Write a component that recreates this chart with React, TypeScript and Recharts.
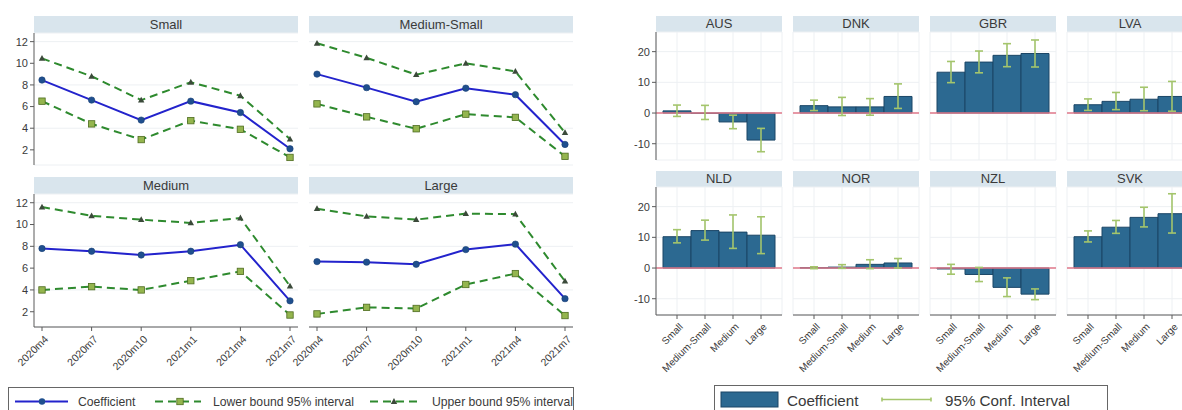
import React from 'react';
import {
  LineChart, Line, BarChart, Bar, ErrorBar, XAxis, YAxis, CartesianGrid, ReferenceLine,
} from 'recharts';

const FONT = '"Liberation Sans", Arial, sans-serif';

// ---- time profile by firm size ----
const PERIODS = ['2020m4', '2020m7', '2020m10', '2021m1', '2021m4', '2021m7'];

const smallCoef = [8.45, 6.6, 4.75, 6.5, 5.45, 2.1];
const smallLower = [6.5, 4.4, 2.95, 4.7, 3.9, 1.3];
const smallUpper = [10.45, 8.8, 6.6, 8.25, 7.0, 3.0];

const medSmallCoef = [9.0, 7.75, 6.45, 7.7, 7.1, 2.5];
const medSmallLower = [6.25, 5.05, 3.95, 5.3, 5.0, 1.4];
const medSmallUpper = [11.85, 10.5, 8.95, 10.0, 9.25, 3.6];

const mediumCoef = [7.8, 7.55, 7.2, 7.55, 8.15, 3.0];
const mediumLower = [4.0, 4.3, 4.0, 4.85, 5.7, 1.7];
const mediumUpper = [11.6, 10.8, 10.45, 10.15, 10.6, 4.35];

const largeCoef = [6.6, 6.55, 6.35, 7.7, 8.2, 3.2];
const largeLower = [1.8, 2.4, 2.3, 4.5, 5.5, 1.65];
const largeUpper = [11.45, 10.75, 10.45, 11.0, 10.95, 4.8];

const TREND_TICKS = [2, 4, 6, 8, 10, 12];

// ---- country estimates by firm size ----
const SIZES = ['Small', 'Medium-Small', 'Medium', 'Large'];

const ausCoef = [0.7, -0.1, -2.9, -8.8];
const ausLow = [-1.1, -2.1, -5.1, -12.6];
const ausHigh = [2.6, 2.5, -0.7, -5.0];

const dnkCoef = [2.4, 2.0, 2.0, 5.4];
const dnkLow = [0.8, -0.8, -0.7, 1.5];
const dnkHigh = [4.2, 5.1, 4.7, 9.5];

const gbrCoef = [13.3, 16.6, 18.8, 19.4];
const gbrLow = [9.9, 13.1, 15.1, 15.0];
const gbrHigh = [16.8, 20.2, 22.6, 23.8];

const lvaCoef = [2.7, 3.8, 4.5, 5.4];
const lvaLow = [0.85, 1.1, 0.75, 0.6];
const lvaHigh = [4.6, 6.7, 8.4, 10.3];

const nldCoef = [10.2, 12.2, 11.7, 10.7];
const nldLow = [8.2, 9.1, 6.4, 4.7];
const nldHigh = [12.5, 15.6, 17.3, 16.7];

const norCoef = [0.1, 0.3, 1.2, 1.65];
const norLow = [-0.2, -0.1, -0.2, 0.0];
const norHigh = [0.4, 1.1, 2.7, 3.1];

const nzlCoef = [-0.3, -2.1, -6.3, -8.5];
const nzlLow = [-2.0, -4.4, -9.3, -10.3];
const nzlHigh = [1.2, 0.2, -3.2, -6.8];

const svkCoef = [10.2, 13.3, 16.5, 17.7];
const svkLow = [8.5, 11.3, 13.4, 11.4];
const svkHigh = [12.1, 15.5, 19.8, 24.2];

const COUNTRY_TICKS = [-10, 0, 10, 20];

const AXIS = '#5a5a5a';
const TEXT = '#3a3a3a';
const GRID = '#edf0f3';
const STRIP = '#d9e5ed';

function Strip({ left, top, width, height, label }: any) {
  return (
    <div style={{
      position: 'absolute', left, top, width, height, background: STRIP,
      fontSize: 13, color: TEXT, textAlign: 'center', lineHeight: `${height}px`,
    }}>{label}</div>
  );
}

function SlantTick({ x, y, payload, fontSize }: any) {
  const ax = x + 4;
  const ay = y + 4;
  return (
    <text x={ax} y={ay} transform={`rotate(-45 ${ax} ${ay})`} textAnchor="end"
      dominantBaseline="central" fontSize={fontSize} fill={TEXT} fontFamily={FONT}>
      {payload.value}
    </text>
  );
}

function CircleDot({ cx, cy, index }: any) {
  return <circle key={`c${index}`} cx={cx} cy={cy} r={3.2} fill="#1f4f8e" stroke="#1a3f75" strokeWidth={0.6} />;
}

function SquareDot({ cx, cy, index }: any) {
  return <rect key={`s${index}`} x={cx - 3.2} y={cy - 3.2} width={6.4} height={6.4} fill="#94b54e" stroke="#4d6b1f" strokeWidth={0.8} />;
}

function TriangleDot({ cx, cy, index }: any) {
  return <path key={`t${index}`} d={`M${cx},${cy - 3.4} L${cx + 3.2},${cy + 2.4} L${cx - 3.2},${cy + 2.4} Z`} fill="#3b4a3a" />;
}

function TrendPanel({ title, coef, lower, upper, x, y, plotH, stripH, showY, showX }: any) {
  const data = PERIODS.map((p, i) => ({ period: p, coef: coef[i], lower: lower[i], upper: upper[i] }));
  const yw = showY ? 34 : 0;
  const xh = showX ? 44 : 0;
  return (
    <>
      <Strip left={x + yw} top={y} width={264} height={stripH} label={title} />
      <div style={{ position: 'absolute', left: x, top: y + stripH }}>
        <LineChart width={yw + 264} height={plotH + xh} data={data}
          margin={{ top: 0, right: 0, bottom: 0, left: 0 }}>
          <CartesianGrid vertical={false} stroke={GRID} />
          <XAxis dataKey="period" hide={!showX} height={xh} padding={{ left: 8, right: 8 }}
            stroke={AXIS} tickSize={4} interval={0} tick={<SlantTick fontSize={10.5} />} />
          <YAxis hide={!showY} width={yw} domain={[0.6, 12.8]} ticks={TREND_TICKS} allowDataOverflow
            stroke={AXIS} tickSize={4} tick={{ fontSize: 11, fill: TEXT }} />
          <Line dataKey="upper" stroke="#2e8a2e" strokeWidth={2} strokeDasharray="8 5"
            dot={TriangleDot} isAnimationActive={false} />
          <Line dataKey="lower" stroke="#2e8a2e" strokeWidth={2} strokeDasharray="8 5"
            dot={SquareDot} isAnimationActive={false} />
          <Line dataKey="coef" stroke="#2323cc" strokeWidth={2} dot={CircleDot} isAnimationActive={false} />
        </LineChart>
      </div>
    </>
  );
}

function CountryPanel({ title, coef, low, high, x, y, showY, showX }: any) {
  const data = SIZES.map((s, i) => ({ size: s, coef: coef[i], err: [coef[i] - low[i], high[i] - coef[i]] }));
  const yw = showY ? 30 : 0;
  const xh = showX ? 48 : 0;
  const plotW = 126;
  const plotH = 128;
  const stripH = 16;
  return (
    <>
      <Strip left={x + yw} top={y} width={plotW} height={stripH} label={title} />
      <div style={{ position: 'absolute', left: x, top: y + stripH }}>
        <BarChart width={yw + plotW} height={plotH + xh} data={data} barCategoryGap={0}
          margin={{ top: 0, right: 0, bottom: 0, left: 0 }}>
          <CartesianGrid stroke={GRID} />
          <XAxis dataKey="size" hide={!showX} height={xh} padding={{ left: 7, right: 7 }}
            stroke={AXIS} tickSize={4} interval={0} tick={<SlantTick fontSize={10} />} />
          <YAxis hide={!showY} width={yw} domain={[-15.3, 26.4]} ticks={COUNTRY_TICKS} allowDataOverflow
            stroke={AXIS} tickSize={4} tick={{ fontSize: 11, fill: TEXT }} />
          <ReferenceLine y={0} stroke="#e0788a" strokeWidth={1.6} />
          <Bar dataKey="coef" fill="#2c6991" stroke="#1b4666" strokeWidth={1} isAnimationActive={false}>
            <ErrorBar dataKey="err" direction="y" width={4} stroke="#a4c56c" strokeWidth={1.6}
              isAnimationActive={false} />
          </Bar>
        </BarChart>
      </div>
    </>
  );
}

function TrendLegend() {
  return (
    <svg style={{ position: 'absolute', left: 8, top: 387 }} width={566} height={30} fontFamily={FONT}>
      <rect x={0.5} y={0.5} width={565} height={40} fill="#fff" stroke="#666" />
      <line x1={7} y1={14.5} x2={60} y2={14.5} stroke="#2323cc" strokeWidth={2} />
      <circle cx={34} cy={14.5} r={3.2} fill="#1f4f8e" />
      <text x={70} y={19} fontSize={12.2} fill={TEXT}>Coefficient</text>
      <line x1={147} y1={14.5} x2={193} y2={14.5} stroke="#2e8a2e" strokeWidth={2} strokeDasharray="8 5" />
      <rect x={168.8} y={11.3} width={6.4} height={6.4} fill="#94b54e" stroke="#4d6b1f" strokeWidth={0.8} />
      <text x={205} y={19} fontSize={12.2} fill={TEXT}>Lower bound 95% interval</text>
      <line x1={362} y1={14.5} x2={410} y2={14.5} stroke="#2e8a2e" strokeWidth={2} strokeDasharray="8 5" />
      <path d="M386,11.1 L389.2,16.9 L382.8,16.9 Z" fill="#3b4a3a" />
      <text x={424} y={19} fontSize={12.2} fill={TEXT}>Upper bound 95% interval</text>
    </svg>
  );
}

function CountryLegend() {
  return (
    <svg style={{ position: 'absolute', left: 714, top: 385 }} width={395} height={30} fontFamily={FONT}>
      <rect x={0.5} y={0.5} width={393} height={40} fill="#fff" stroke="#666" />
      <rect x={7} y={7} width={57} height={15} fill="#2c6991" stroke="#1b4666" />
      <text x={73} y={20.5} fontSize={15.2} fill={TEXT}>Coefficient</text>
      <line x1={168} y1={14.5} x2={217} y2={14.5} stroke="#a4c56c" strokeWidth={1.6} />
      <line x1={168} y1={12.5} x2={168} y2={16.5} stroke="#a4c56c" strokeWidth={1.6} />
      <line x1={217} y1={12.5} x2={217} y2={16.5} stroke="#a4c56c" strokeWidth={1.6} />
      <text x={231} y={20.5} fontSize={15.2} fill={TEXT}>95% Conf. Interval</text>
    </svg>
  );
}

export default function App() {
  return (
    <div style={{
      position: 'absolute', left: 0, top: 0, width: 1182, height: 410, overflow: 'hidden',
      background: '#fff', fontFamily: FONT,
    }}>
      <style>{'.recharts-surface { overflow: visible; }'}</style>
      <TrendPanel title="Small" coef={smallCoef} lower={smallLower} upper={smallUpper}
        x={0} y={16} plotH={132} stripH={17} showY />
      <TrendPanel title="Medium-Small" coef={medSmallCoef} lower={medSmallLower} upper={medSmallUpper}
        x={309} y={16} plotH={132} stripH={17} />
      <TrendPanel title="Medium" coef={mediumCoef} lower={mediumLower} upper={mediumUpper}
        x={0} y={177} plotH={133} stripH={17} showY showX />
      <TrendPanel title="Large" coef={largeCoef} lower={largeLower} upper={largeUpper}
        x={309} y={177} plotH={133} stripH={17} showX />

      <CountryPanel title="AUS" coef={ausCoef} low={ausLow} high={ausHigh} x={626} y={16} showY />
      <CountryPanel title="DNK" coef={dnkCoef} low={dnkLow} high={dnkHigh} x={793} y={16} />
      <CountryPanel title="GBR" coef={gbrCoef} low={gbrLow} high={gbrHigh} x={930} y={16} />
      <CountryPanel title="LVA" coef={lvaCoef} low={lvaLow} high={lvaHigh} x={1067} y={16} />
      <CountryPanel title="NLD" coef={nldCoef} low={nldLow} high={nldHigh} x={626} y={171} showY showX />
      <CountryPanel title="NOR" coef={norCoef} low={norLow} high={norHigh} x={793} y={171} showX />
      <CountryPanel title="NZL" coef={nzlCoef} low={nzlLow} high={nzlHigh} x={930} y={171} showX />
      <CountryPanel title="SVK" coef={svkCoef} low={svkLow} high={svkHigh} x={1067} y={171} showX />

      <TrendLegend />
      <CountryLegend />
    </div>
  );
}
